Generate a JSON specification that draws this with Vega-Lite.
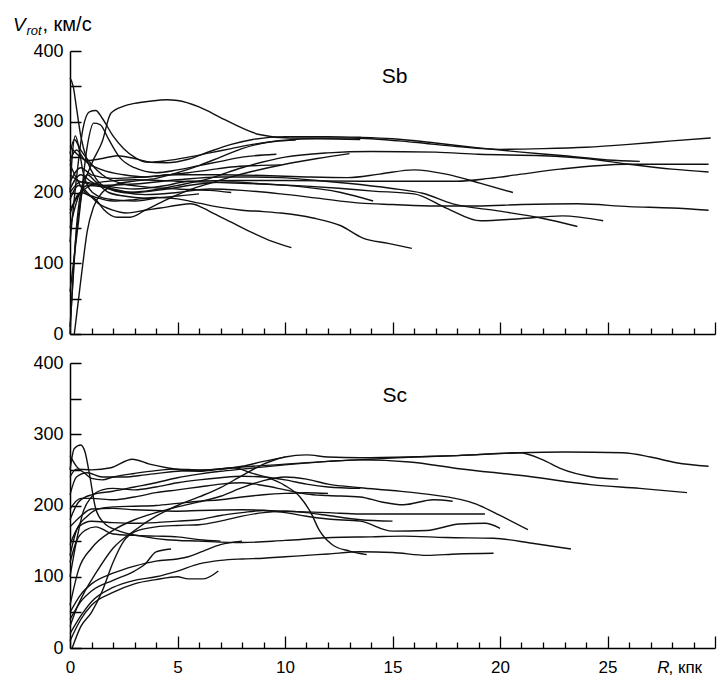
{
"$schema": "https://vega.github.io/schema/vega-lite/v6.json",
"background": "white",
"padding": {"left": 13, "top": 14, "right": 3, "bottom": 0},
"config": {"view": {"stroke": null}, "font": "Liberation Sans", "axis": {"labelOverlap": false}},
"bounds": "flush",
"spacing": 29,
"datasets": {
"sb": [
{"g":"T1","R":0,"V":0},{"g":"T1","R":0.2,"V":110},{"g":"T1","R":0.5,"V":190},{"g":"T1","R":1,"V":240},{"g":"T1","R":1.5,"V":272},{"g":"T1","R":1.9,"V":312},{"g":"T1","R":2.5,"V":322},{"g":"T1","R":3,"V":326},{"g":"T1","R":3.7,"V":329},{"g":"T1","R":4.5,"V":331},{"g":"T1","R":5,"V":330},{"g":"T1","R":6,"V":321},{"g":"T1","R":7,"V":306},{"g":"T1","R":7.6,"V":297},{"g":"T1","R":8.8,"V":282},{"g":"T1","R":10.2,"V":277},{"g":"T1","R":13,"V":277},{"g":"T1","R":16,"V":271},{"g":"T1","R":18,"V":265},{"g":"T1","R":20,"V":261},{"g":"T1","R":22,"V":262},{"g":"T1","R":24,"V":264},{"g":"T1","R":26,"V":268},{"g":"T1","R":28,"V":273},{"g":"T1","R":29.8,"V":277},
{"g":"T2","R":0,"V":362},{"g":"T2","R":0.15,"V":350},{"g":"T2","R":0.3,"V":320},{"g":"T2","R":0.5,"V":280},{"g":"T2","R":0.8,"V":245},{"g":"T2","R":1.2,"V":220},{"g":"T2","R":1.8,"V":205},{"g":"T2","R":2.5,"V":200},{"g":"T2","R":3.5,"V":202},{"g":"T2","R":5,"V":210},{"g":"T2","R":6.5,"V":220},{"g":"T2","R":8,"V":235},{"g":"T2","R":10,"V":250},{"g":"T2","R":12,"V":256},{"g":"T2","R":14,"V":258},{"g":"T2","R":17,"V":257},{"g":"T2","R":19,"V":254},{"g":"T2","R":22,"V":252},{"g":"T2","R":24,"V":248},{"g":"T2","R":26,"V":240},{"g":"T2","R":28,"V":233},{"g":"T2","R":29.7,"V":229},
{"g":"T3","R":0,"V":130},{"g":"T3","R":0.3,"V":220},{"g":"T3","R":0.6,"V":290},{"g":"T3","R":0.9,"V":314},{"g":"T3","R":1.2,"V":316},{"g":"T3","R":1.5,"V":305},{"g":"T3","R":2,"V":280},{"g":"T3","R":2.5,"V":262},{"g":"T3","R":3,"V":250},{"g":"T3","R":3.5,"V":243},{"g":"T3","R":4.5,"V":242},{"g":"T3","R":5.5,"V":247},{"g":"T3","R":6.5,"V":258},{"g":"T3","R":7.5,"V":268},{"g":"T3","R":8.5,"V":275},{"g":"T3","R":10,"V":279},{"g":"T3","R":12,"V":279},{"g":"T3","R":13.5,"V":278},{"g":"T3","R":15,"V":276},{"g":"T3","R":17,"V":270},{"g":"T3","R":19,"V":263},{"g":"T3","R":21,"V":257},{"g":"T3","R":23,"V":252},{"g":"T3","R":25,"V":246},{"g":"T3","R":26.5,"V":244},
{"g":"T4","R":0,"V":60},{"g":"T4","R":0.4,"V":160},{"g":"T4","R":0.8,"V":265},{"g":"T4","R":1.1,"V":298},{"g":"T4","R":1.4,"V":296},{"g":"T4","R":1.8,"V":275},{"g":"T4","R":2.3,"V":250},{"g":"T4","R":3,"V":235},{"g":"T4","R":4,"V":228},{"g":"T4","R":5,"V":232},{"g":"T4","R":6,"V":238},{"g":"T4","R":7,"V":244},{"g":"T4","R":8,"V":250},{"g":"T4","R":9,"V":253},{"g":"T4","R":9.6,"V":254},
{"g":"T5","R":0.2,"V":0},{"g":"T5","R":0.4,"V":50},{"g":"T5","R":0.6,"V":100},{"g":"T5","R":0.8,"V":145},{"g":"T5","R":1.1,"V":180},{"g":"T5","R":1.5,"V":200},{"g":"T5","R":2.2,"V":212},{"g":"T5","R":3,"V":216},{"g":"T5","R":4,"V":220},{"g":"T5","R":5,"V":228},{"g":"T5","R":6,"V":238},{"g":"T5","R":7,"V":250},{"g":"T5","R":8,"V":262},{"g":"T5","R":9,"V":270},{"g":"T5","R":10,"V":274},{"g":"T5","R":11.5,"V":276},{"g":"T5","R":13.5,"V":275},
{"g":"T6","R":0,"V":190},{"g":"T6","R":0.4,"V":210},{"g":"T6","R":0.8,"V":200},{"g":"T6","R":1.3,"V":185},{"g":"T6","R":2,"V":175},{"g":"T6","R":2.6,"V":171},{"g":"T6","R":3.5,"V":175},{"g":"T6","R":4.2,"V":178},{"g":"T6","R":5,"V":182},{"g":"T6","R":5.6,"V":184},{"g":"T6","R":6.2,"V":178},{"g":"T6","R":6.7,"V":170},{"g":"T6","R":7.5,"V":158},{"g":"T6","R":8.5,"V":143},{"g":"T6","R":9.4,"V":131},{"g":"T6","R":10.3,"V":122},
{"g":"T7","R":0,"V":170},{"g":"T7","R":0.5,"V":200},{"g":"T7","R":1,"V":195},{"g":"T7","R":2,"V":188},{"g":"T7","R":3,"V":190},{"g":"T7","R":4,"V":193},{"g":"T7","R":5,"V":191},{"g":"T7","R":6,"V":185},{"g":"T7","R":7,"V":179},{"g":"T7","R":8,"V":175},{"g":"T7","R":9,"V":173},{"g":"T7","R":9.8,"V":171},{"g":"T7","R":11.3,"V":164},{"g":"T7","R":12.6,"V":153},{"g":"T7","R":13.6,"V":136},{"g":"T7","R":14.8,"V":128},{"g":"T7","R":15.9,"V":121},
{"g":"T8","R":0,"V":150},{"g":"T8","R":0.4,"V":195},{"g":"T8","R":0.8,"V":210},{"g":"T8","R":1.5,"V":208},{"g":"T8","R":2.5,"V":200},{"g":"T8","R":3.5,"V":197},{"g":"T8","R":5,"V":200},{"g":"T8","R":6.5,"V":205},{"g":"T8","R":8,"V":203},{"g":"T8","R":9.8,"V":198},{"g":"T8","R":11.5,"V":192},{"g":"T8","R":13.5,"V":185},{"g":"T8","R":15,"V":183},{"g":"T8","R":17,"V":181},{"g":"T8","R":18.9,"V":181},{"g":"T8","R":21,"V":183},{"g":"T8","R":23.6,"V":184},{"g":"T8","R":26,"V":180},{"g":"T8","R":28,"V":178},{"g":"T8","R":29.7,"V":175},
{"g":"T9","R":0,"V":225},{"g":"T9","R":0.5,"V":215},{"g":"T9","R":1.5,"V":210},{"g":"T9","R":3,"V":212},{"g":"T9","R":5,"V":218},{"g":"T9","R":7,"V":222},{"g":"T9","R":8.5,"V":222},{"g":"T9","R":9.8,"V":221},{"g":"T9","R":11.5,"V":217},{"g":"T9","R":12.9,"V":213},{"g":"T9","R":14.9,"V":206},{"g":"T9","R":16.4,"V":199},{"g":"T9","R":17.8,"V":184},{"g":"T9","R":19.9,"V":174},{"g":"T9","R":21.9,"V":164},{"g":"T9","R":23.6,"V":152},
{"g":"T10","R":0,"V":175},{"g":"T10","R":0.5,"V":200},{"g":"T10","R":1.5,"V":215},{"g":"T10","R":3,"V":218},{"g":"T10","R":5,"V":216},{"g":"T10","R":7,"V":214},{"g":"T10","R":9,"V":212},{"g":"T10","R":11,"V":209},{"g":"T10","R":12.5,"V":206},{"g":"T10","R":14.1,"V":202},{"g":"T10","R":16,"V":198},{"g":"T10","R":17.5,"V":178},{"g":"T10","R":19.1,"V":160},{"g":"T10","R":20.9,"V":163},{"g":"T10","R":22.9,"V":167},{"g":"T10","R":24.8,"V":160},
{"g":"T11","R":0,"V":215},{"g":"T11","R":0.5,"V":235},{"g":"T11","R":1,"V":225},{"g":"T11","R":2,"V":220},{"g":"T11","R":3.5,"V":222},{"g":"T11","R":5,"V":225},{"g":"T11","R":7,"V":225},{"g":"T11","R":9,"V":224},{"g":"T11","R":11,"V":222},{"g":"T11","R":12.9,"V":221},{"g":"T11","R":14.4,"V":226},{"g":"T11","R":16,"V":232},{"g":"T11","R":17.5,"V":226},{"g":"T11","R":19.1,"V":213},{"g":"T11","R":20.6,"V":200},
{"g":"T12","R":0,"V":205},{"g":"T12","R":0.5,"V":225},{"g":"T12","R":1,"V":215},{"g":"T12","R":2,"V":205},{"g":"T12","R":3,"V":200},{"g":"T12","R":4.5,"V":205},{"g":"T12","R":6,"V":212},{"g":"T12","R":7.5,"V":215},{"g":"T12","R":9,"V":212},{"g":"T12","R":10.5,"V":209},{"g":"T12","R":12.6,"V":200},{"g":"T12","R":14.1,"V":188},
{"g":"T13","R":0,"V":245},{"g":"T13","R":0.3,"V":260},{"g":"T13","R":0.7,"V":245},{"g":"T13","R":1.5,"V":232},{"g":"T13","R":2.5,"V":225},{"g":"T13","R":3.5,"V":222},{"g":"T13","R":4.5,"V":225},{"g":"T13","R":5.5,"V":228},{"g":"T13","R":6.5,"V":232},{"g":"T13","R":7.5,"V":236},{"g":"T13","R":8.7,"V":238},{"g":"T13","R":9.8,"V":239},
{"g":"T14","R":0,"V":200},{"g":"T14","R":0.5,"V":215},{"g":"T14","R":1.5,"V":210},{"g":"T14","R":3,"V":205},{"g":"T14","R":4.5,"V":210},{"g":"T14","R":5.5,"V":216},{"g":"T14","R":8,"V":217},{"g":"T14","R":10,"V":217},{"g":"T14","R":13.5,"V":216},{"g":"T14","R":16,"V":216},{"g":"T14","R":18,"V":216},{"g":"T14","R":19.5,"V":220},{"g":"T14","R":21,"V":226},{"g":"T14","R":22.8,"V":233},{"g":"T14","R":25.9,"V":240},{"g":"T14","R":28,"V":240},{"g":"T14","R":29.7,"V":240},
{"g":"T15","R":0,"V":255},{"g":"T15","R":0.2,"V":275},{"g":"T15","R":0.5,"V":260},{"g":"T15","R":1,"V":240},{"g":"T15","R":1.5,"V":225},{"g":"T15","R":2.5,"V":212},{"g":"T15","R":3.5,"V":208},{"g":"T15","R":5,"V":205},{"g":"T15","R":6.5,"V":203},{"g":"T15","R":7.5,"V":200},
{"g":"T16","R":0,"V":240},{"g":"T16","R":0.3,"V":220},{"g":"T16","R":0.7,"V":200},{"g":"T16","R":1.2,"V":190},{"g":"T16","R":1.6,"V":175},{"g":"T16","R":2.2,"V":165},{"g":"T16","R":2.8,"V":165},{"g":"T16","R":3.5,"V":175},{"g":"T16","R":4.5,"V":190},{"g":"T16","R":5.5,"V":203},{"g":"T16","R":6.5,"V":213},{"g":"T16","R":7.5,"V":222},{"g":"T16","R":8.5,"V":230},{"g":"T16","R":10,"V":240},{"g":"T16","R":11.5,"V":248},{"g":"T16","R":13,"V":255},
{"g":"T17","R":0,"V":265},{"g":"T17","R":0.3,"V":255},{"g":"T17","R":0.8,"V":245},{"g":"T17","R":1.5,"V":248},{"g":"T17","R":2.2,"V":252},{"g":"T17","R":3,"V":248},{"g":"T17","R":3.8,"V":243},{"g":"T17","R":4.5,"V":245},{"g":"T17","R":5.5,"V":250},{"g":"T17","R":6.5,"V":256},{"g":"T17","R":7.5,"V":262},{"g":"T17","R":8.5,"V":268},{"g":"T17","R":9.5,"V":272},{"g":"T17","R":10.5,"V":274},
{"g":"T18","R":0,"V":10},{"g":"T18","R":0.15,"V":80},{"g":"T18","R":0.3,"V":150},{"g":"T18","R":0.5,"V":200},{"g":"T18","R":0.8,"V":225},{"g":"T18","R":1.2,"V":215},{"g":"T18","R":1.8,"V":200},{"g":"T18","R":2.5,"V":195},{"g":"T18","R":3.5,"V":192},{"g":"T18","R":5,"V":195},{"g":"T18","R":6,"V":198},
{"g":"T19","R":0,"V":200},{"g":"T19","R":0.1,"V":250},{"g":"T19","R":0.25,"V":280},{"g":"T19","R":0.4,"V":265},{"g":"T19","R":0.6,"V":230},{"g":"T19","R":0.9,"V":205},{"g":"T19","R":1.3,"V":195},{"g":"T19","R":2,"V":190},{"g":"T19","R":3,"V":188},{"g":"T19","R":4,"V":192}
],
"sc": [
{"g":"B1","R":0,"V":30},{"g":"B1","R":0.3,"V":55},{"g":"B1","R":0.7,"V":80},{"g":"B1","R":1.2,"V":105},{"g":"B1","R":2,"V":140},{"g":"B1","R":3,"V":165},{"g":"B1","R":4,"V":185},{"g":"B1","R":5,"V":200},{"g":"B1","R":6,"V":212},{"g":"B1","R":7,"V":225},{"g":"B1","R":8,"V":242},{"g":"B1","R":9,"V":258},{"g":"B1","R":10,"V":268},{"g":"B1","R":11,"V":271},{"g":"B1","R":12,"V":268},{"g":"B1","R":13.5,"V":267},{"g":"B1","R":15.8,"V":268},{"g":"B1","R":18,"V":270},{"g":"B1","R":20.9,"V":274},{"g":"B1","R":23,"V":275},{"g":"B1","R":25.7,"V":274},{"g":"B1","R":27,"V":268},{"g":"B1","R":28.2,"V":260},{"g":"B1","R":29.7,"V":255},
{"g":"B2","R":0,"V":215},{"g":"B2","R":0.3,"V":240},{"g":"B2","R":0.8,"V":246},{"g":"B2","R":1.5,"V":240},{"g":"B2","R":2.5,"V":240},{"g":"B2","R":3.5,"V":243},{"g":"B2","R":5,"V":248},{"g":"B2","R":6.5,"V":250},{"g":"B2","R":8,"V":254},{"g":"B2","R":10,"V":258},{"g":"B2","R":12,"V":262},{"g":"B2","R":14,"V":265},{"g":"B2","R":16,"V":268},{"g":"B2","R":18,"V":270},{"g":"B2","R":20.9,"V":274},{"g":"B2","R":22,"V":264},{"g":"B2","R":22.8,"V":252},{"g":"B2","R":24.3,"V":240},{"g":"B2","R":25.5,"V":237},
{"g":"B3","R":0,"V":180},{"g":"B3","R":0.4,"V":205},{"g":"B3","R":1,"V":215},{"g":"B3","R":2,"V":220},{"g":"B3","R":3,"V":226},{"g":"B3","R":4,"V":232},{"g":"B3","R":5,"V":239},{"g":"B3","R":6,"V":244},{"g":"B3","R":7,"V":248},{"g":"B3","R":8,"V":251},{"g":"B3","R":10,"V":257},{"g":"B3","R":12,"V":262},{"g":"B3","R":13.5,"V":264},{"g":"B3","R":15.8,"V":261},{"g":"B3","R":18,"V":252},{"g":"B3","R":21.3,"V":241},{"g":"B3","R":24.3,"V":229},{"g":"B3","R":26.5,"V":224},{"g":"B3","R":28.7,"V":218},
{"g":"B4","R":0,"V":250},{"g":"B4","R":0.2,"V":280},{"g":"B4","R":0.5,"V":285},{"g":"B4","R":0.7,"V":275},{"g":"B4","R":0.9,"V":245},{"g":"B4","R":1.2,"V":195},{"g":"B4","R":1.6,"V":175},{"g":"B4","R":2.2,"V":165},{"g":"B4","R":3.3,"V":157},{"g":"B4","R":4.5,"V":152},{"g":"B4","R":6,"V":150},{"g":"B4","R":8,"V":148},{"g":"B4","R":10,"V":151},{"g":"B4","R":12.2,"V":155},{"g":"B4","R":14,"V":156},{"g":"B4","R":15.5,"V":157},{"g":"B4","R":17.5,"V":155},{"g":"B4","R":19.7,"V":154},{"g":"B4","R":21.5,"V":147},{"g":"B4","R":23.3,"V":139},
{"g":"B5","R":0,"V":240},{"g":"B5","R":0.3,"V":251},{"g":"B5","R":1,"V":250},{"g":"B5","R":1.9,"V":253},{"g":"B5","R":2.9,"V":265},{"g":"B5","R":3.7,"V":258},{"g":"B5","R":4.5,"V":253},{"g":"B5","R":6,"V":248},{"g":"B5","R":7.6,"V":253},{"g":"B5","R":8.5,"V":245},{"g":"B5","R":9.2,"V":239},{"g":"B5","R":10,"V":228},{"g":"B5","R":10.7,"V":212},{"g":"B5","R":11.2,"V":190},{"g":"B5","R":11.6,"V":165},{"g":"B5","R":12.2,"V":145},{"g":"B5","R":13,"V":136},{"g":"B5","R":13.8,"V":131},
{"g":"B6","R":0,"V":60},{"g":"B6","R":0.4,"V":110},{"g":"B6","R":1,"V":140},{"g":"B6","R":2,"V":165},{"g":"B6","R":3,"V":180},{"g":"B6","R":4,"V":190},{"g":"B6","R":5,"V":198},{"g":"B6","R":6,"V":205},{"g":"B6","R":7,"V":213},{"g":"B6","R":8,"V":225},{"g":"B6","R":9,"V":235},{"g":"B6","R":10,"V":240},{"g":"B6","R":11,"V":237},{"g":"B6","R":12,"V":230},{"g":"B6","R":13.5,"V":225},{"g":"B6","R":15,"V":221},{"g":"B6","R":16.6,"V":216},{"g":"B6","R":18.9,"V":202},{"g":"B6","R":20,"V":186},{"g":"B6","R":21.3,"V":166},
{"g":"B7","R":0,"V":195},{"g":"B7","R":0.5,"V":210},{"g":"B7","R":1,"V":210},{"g":"B7","R":2,"V":208},{"g":"B7","R":3,"V":212},{"g":"B7","R":4,"V":218},{"g":"B7","R":5,"V":222},{"g":"B7","R":6,"V":226},{"g":"B7","R":7,"V":230},{"g":"B7","R":8,"V":232},{"g":"B7","R":9,"V":228},{"g":"B7","R":10,"V":222},{"g":"B7","R":11,"V":216},{"g":"B7","R":12,"V":214},{"g":"B7","R":13.5,"V":212},{"g":"B7","R":14.5,"V":205},{"g":"B7","R":15.5,"V":201},{"g":"B7","R":16.9,"V":208},{"g":"B7","R":17.8,"V":206},
{"g":"B8","R":0,"V":145},{"g":"B8","R":0.4,"V":170},{"g":"B8","R":1,"V":178},{"g":"B8","R":2,"V":176},{"g":"B8","R":3,"V":175},{"g":"B8","R":4,"V":176},{"g":"B8","R":5,"V":178},{"g":"B8","R":6,"V":180},{"g":"B8","R":7,"V":186},{"g":"B8","R":8,"V":190},{"g":"B8","R":9,"V":193},{"g":"B8","R":10,"V":190},{"g":"B8","R":11,"V":185},{"g":"B8","R":12,"V":181},{"g":"B8","R":13.5,"V":178},{"g":"B8","R":15,"V":164},{"g":"B8","R":16.6,"V":165},{"g":"B8","R":18.1,"V":174},{"g":"B8","R":19.3,"V":175},{"g":"B8","R":20,"V":168},
{"g":"B9","R":0,"V":170},{"g":"B9","R":0.5,"V":185},{"g":"B9","R":1,"V":195},{"g":"B9","R":2,"V":196},{"g":"B9","R":3,"V":194},{"g":"B9","R":4,"V":193},{"g":"B9","R":5,"V":192},{"g":"B9","R":6,"V":193},{"g":"B9","R":8,"V":194},{"g":"B9","R":10,"V":192},{"g":"B9","R":12,"V":190},{"g":"B9","R":13.5,"V":188},{"g":"B9","R":16,"V":188},{"g":"B9","R":19.3,"V":188},
{"g":"B10","R":0,"V":20},{"g":"B10","R":0.5,"V":45},{"g":"B10","R":1,"V":65},{"g":"B10","R":2,"V":85},{"g":"B10","R":3,"V":95},{"g":"B10","R":4,"V":100},{"g":"B10","R":5,"V":108},{"g":"B10","R":6,"V":118},{"g":"B10","R":7,"V":123},{"g":"B10","R":8,"V":125},{"g":"B10","R":9,"V":126},{"g":"B10","R":10,"V":128},{"g":"B10","R":11,"V":130},{"g":"B10","R":12,"V":132},{"g":"B10","R":13.5,"V":135},{"g":"B10","R":15,"V":134},{"g":"B10","R":16.6,"V":130},{"g":"B10","R":18,"V":132},{"g":"B10","R":19.7,"V":133},
{"g":"B11","R":0,"V":10},{"g":"B11","R":0.5,"V":40},{"g":"B11","R":1,"V":60},{"g":"B11","R":2,"V":78},{"g":"B11","R":3,"V":90},{"g":"B11","R":4,"V":96},{"g":"B11","R":5,"V":100},{"g":"B11","R":5.5,"V":97},{"g":"B11","R":6.2,"V":97},{"g":"B11","R":6.9,"V":108},
{"g":"B12","R":0,"V":40},{"g":"B12","R":0.5,"V":65},{"g":"B12","R":1,"V":80},{"g":"B12","R":2,"V":95},{"g":"B12","R":3,"V":108},{"g":"B12","R":3.5,"V":118},{"g":"B12","R":4,"V":135},{"g":"B12","R":4.7,"V":139},
{"g":"B13","R":0.1,"V":0},{"g":"B13","R":0.5,"V":30},{"g":"B13","R":1,"V":50},{"g":"B13","R":1.5,"V":80},{"g":"B13","R":2,"V":120},{"g":"B13","R":2.5,"V":150},{"g":"B13","R":3,"V":163},{"g":"B13","R":4,"V":170},{"g":"B13","R":5,"V":172},{"g":"B13","R":6,"V":173},{"g":"B13","R":7,"V":178},{"g":"B13","R":8,"V":185},{"g":"B13","R":9,"V":190},{"g":"B13","R":10,"V":192},{"g":"B13","R":11,"V":190},{"g":"B13","R":12,"V":186},{"g":"B13","R":13.5,"V":180},{"g":"B13","R":15,"V":178},
{"g":"B14","R":0,"V":120},{"g":"B14","R":0.3,"V":150},{"g":"B14","R":0.7,"V":165},{"g":"B14","R":1.2,"V":170},{"g":"B14","R":2,"V":160},{"g":"B14","R":3,"V":158},{"g":"B14","R":4,"V":157},{"g":"B14","R":5,"V":156},{"g":"B14","R":6,"V":152},{"g":"B14","R":7,"V":150},
{"g":"B15","R":0,"V":100},{"g":"B15","R":0.3,"V":150},{"g":"B15","R":0.6,"V":190},{"g":"B15","R":1,"V":212},{"g":"B15","R":1.5,"V":222},{"g":"B15","R":2,"V":224},{"g":"B15","R":3,"V":222},{"g":"B15","R":4,"V":226},{"g":"B15","R":5,"V":232},{"g":"B15","R":6,"V":236},{"g":"B15","R":7,"V":239},{"g":"B15","R":8,"V":241},{"g":"B15","R":9,"V":240},{"g":"B15","R":10,"V":236},{"g":"B15","R":11,"V":230},{"g":"B15","R":12,"V":226},{"g":"B15","R":13.5,"V":224},
{"g":"B16","R":0,"V":270},{"g":"B16","R":0.3,"V":255},{"g":"B16","R":0.7,"V":245},{"g":"B16","R":1,"V":238},{"g":"B16","R":1.5,"V":236},{"g":"B16","R":2,"V":240},{"g":"B16","R":3,"V":245},{"g":"B16","R":4,"V":249},{"g":"B16","R":5,"V":251},{"g":"B16","R":6,"V":250},{"g":"B16","R":7,"V":251},{"g":"B16","R":8,"V":255},{"g":"B16","R":9,"V":262},{"g":"B16","R":10,"V":268},
{"g":"B17","R":0,"V":130},{"g":"B17","R":0.3,"V":165},{"g":"B17","R":0.8,"V":185},{"g":"B17","R":1.3,"V":195},{"g":"B17","R":2,"V":198},{"g":"B17","R":3,"V":199},{"g":"B17","R":4,"V":200},{"g":"B17","R":5,"V":203},{"g":"B17","R":6,"V":206},{"g":"B17","R":7,"V":208},{"g":"B17","R":8,"V":212},{"g":"B17","R":9,"V":215},{"g":"B17","R":10,"V":217},{"g":"B17","R":11,"V":218},{"g":"B17","R":12,"V":217},
{"g":"B18","R":0,"V":50},{"g":"B18","R":0.5,"V":75},{"g":"B18","R":1,"V":90},{"g":"B18","R":2,"V":105},{"g":"B18","R":3,"V":115},{"g":"B18","R":4,"V":122},{"g":"B18","R":5,"V":125},{"g":"B18","R":5.5,"V":128},{"g":"B18","R":6.2,"V":136},{"g":"B18","R":7,"V":145},{"g":"B18","R":8,"V":150}
]
},
"vconcat": [
{
"width": 645, "height": 283,
"title": {"text": "V", "anchor": "start", "frame": "group", "fontStyle": "italic", "fontSize": 19, "fontWeight": "normal", "color": "black", "dx": -57, "offset": -21},
"encoding": {
  "x": {"field": "R", "type": "quantitative", "scale": {"domain": [0, 30], "nice": false},
        "axis": {"values": [0,1,2,3,4,5,6,7,8,9,10,11,12,13,14,15,16,17,18,19,20,21,22,23,24,25,26,27,28,29,30], "labels": false, "grid": false, "domainColor": "black", "domainWidth": 1.5, "tickColor": "black", "tickWidth": 1.3, "tickSize": {"condition": {"test": "datum.value % 5 === 0", "value": -12}, "value": -6},
                 "title": ", км/с", "titleAlign": "left", "titleAnchor": "start", "titleBaseline": "alphabetic", "titleX": -28, "titleY": -304, "titleFontSize": 20, "titleFontWeight": "normal", "titleColor": "black", "titleFont": "Liberation Sans"}},
  "y": {"field": "V", "type": "quantitative", "scale": {"domain": [0, 400], "nice": false},
        "axis": {"values": [0,50,100,150,200,250,300,350,400], "labelExpr": "datum.value % 100 === 0 ? datum.label : ''", "grid": false, "domainColor": "black", "domainWidth": 1.5, "tickColor": "black", "tickWidth": 1.5, "tickSize": -11, "labelPadding": 18, "labelFontSize": 18, "labelColor": "black", "labelFont": "Liberation Sans", "labelOverlap": false, "labelBound": false,
                 "title": "rot", "titleAngle": 0, "titleAlign": "left", "titleBaseline": "alphabetic", "titleX": -44, "titleY": -17, "titleFontSize": 13, "titleFontStyle": "italic", "titleFontWeight": "normal", "titleColor": "black", "titleFont": "Liberation Sans"}}
},
"layer": [
{"data": {"name": "sb"},
 "mark": {"type": "line", "color": "#111", "strokeWidth": 1.4, "interpolate": "monotone"},
 "encoding": {"detail": {"field": "g"}}},
{"data": {"values": [{"R": 15.1, "V": 355, "t": "Sb"}]},
 "mark": {"type": "text", "fontSize": 21, "baseline": "alphabetic", "align": "center", "color": "black", "font": "Liberation Sans"},
 "encoding": {"text": {"field": "t"}}}
]
},
{
"width": 645, "height": 285,
"encoding": {
  "x": {"field": "R", "type": "quantitative", "scale": {"domain": [0, 30], "nice": false},
        "axis": {"values": [0,1,2,3,4,5,6,7,8,9,10,11,12,13,14,15,16,17,18,19,20,21,22,23,24,25,26,27,28,29,30], "labelExpr": "datum.value === 30 ? 'R' : (datum.value % 5 === 0 ? datum.label : '')", "labelFlush": false, "labelOverlap": false, "labelBound": false, "labelFontSize": 17, "labelColor": "black", "labelFont": "Liberation Sans", "labelPadding": 36, "labelBaseline": "alphabetic",
                 "labelFontStyle": {"condition": {"test": "datum.value === 30", "value": "italic"}, "value": "normal"},
                 "labelOffset": {"condition": {"test": "datum.value === 30", "value": -52}, "value": 0},
                 "grid": false, "domainColor": "black", "domainWidth": 1.5, "tickColor": "black", "tickWidth": 1.3, "tickSize": {"condition": {"test": "datum.value % 5 === 0", "value": -12}, "value": -6},
                 "title": ", кпк", "titleAlign": "left", "titleAnchor": "start", "titleBaseline": "alphabetic", "titleX": 598, "titleY": 24, "titleFontSize": 17, "titleFontWeight": "normal", "titleColor": "black", "titleFont": "Liberation Sans"}},
  "y": {"field": "V", "type": "quantitative", "scale": {"domain": [0, 400], "nice": false},
        "axis": {"values": [0,50,100,150,200,250,300,350,400], "labelExpr": "datum.value % 100 === 0 ? datum.label : ''", "grid": false, "domainColor": "black", "domainWidth": 1.5, "tickColor": "black", "tickWidth": 1.5, "tickSize": -11, "labelPadding": 18, "labelFontSize": 18, "labelColor": "black", "labelFont": "Liberation Sans", "labelOverlap": false, "labelBound": false, "title": null}}
},
"layer": [
{"data": {"name": "sc"},
 "mark": {"type": "line", "color": "#111", "strokeWidth": 1.4, "interpolate": "monotone"},
 "encoding": {"detail": {"field": "g"}}},
{"data": {"values": [{"R": 15.1, "V": 345, "t": "Sc"}]},
 "mark": {"type": "text", "fontSize": 21, "baseline": "alphabetic", "align": "center", "color": "black", "font": "Liberation Sans"},
 "encoding": {"text": {"field": "t"}}}
]
}
]
}
